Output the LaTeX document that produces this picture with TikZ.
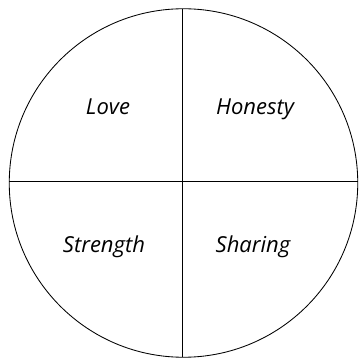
\documentclass[tikz,border=0pt]{standalone}
\usepackage{fontspec}
\setmainfont{Open Sans}
\begin{document}
\begin{tikzpicture}[x=1pt,y=-1pt,
  lbl/.style={font=\itshape\fontsize{22}{22}\selectfont, anchor=base},
  edge/.style={line width=0.85pt, black}]
\useasboundingbox (0,0) rectangle (359,358);
\node[draw, edge, circle, minimum size=348.5pt, inner sep=0pt] (c) at (183.5,183) {};
\coordinate (t) at (182.8,9);
\coordinate (b) at (182.8,357);
\coordinate (l) at (9.3,181);
\coordinate (r) at (357.8,181);
\draw[edge] (t) -- (b);
\draw[edge] (l) -- (r);
\node[lbl] (love) at (108,115) {Love};
\node[lbl] (hon) at (255,115) {Honesty};
\node[lbl] (str) at (104,253) {Strength};
\node[lbl] (sha) at (253,253) {Sharing};
\end{tikzpicture}
\end{document}
